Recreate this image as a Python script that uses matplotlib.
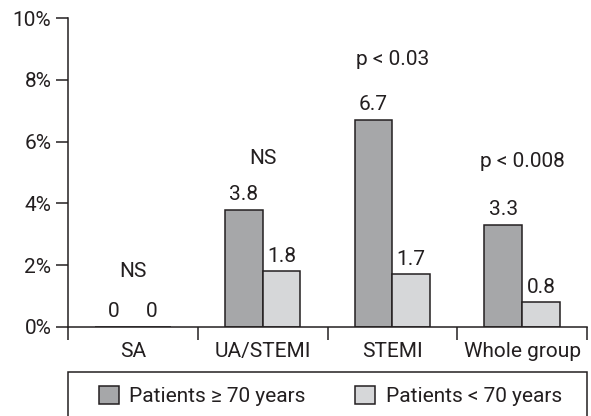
import matplotlib
matplotlib.use("Agg")
import matplotlib.pyplot as plt
from matplotlib.patches import Rectangle
import numpy as np

plt.rcParams['font.family'] = ['Liberation Sans Narrow', 'Roboto', 'DejaVu Sans']

categories = ["SA", "UA/STEMI", "STEMI", "Whole group"]
older = [0, 3.8, 6.7, 3.3]
younger = [0, 1.8, 1.7, 0.8]
p_labels = ["NS", "NS", "p < 0.03", "p < 0.008"]
p_label_y = [1.8, 5.45, 8.65, 5.35]
series_names = ["Patients \u2265 70 years", "Patients < 70 years"]
yticks = [0, 2, 4, 6, 8, 10]
ytick_labels = ["0%", "2%", "4%", "6%", "8%", "10%"]

dark = "#a6a7a9"
light = "#d6d7d9"
edge = "#231f20"
tc = "#231f20"

fig = plt.figure(figsize=(5.91, 4.16), dpi=100)
ax = fig.add_axes([68/591, 1-327/416, (587-68)/591, (327-18)/416])

x = np.arange(len(categories))
w = 0.29
b1 = ax.bar(x - w/2, older, w, color=dark, edgecolor=edge, linewidth=1.1, label=series_names[0])
b2 = ax.bar(x + w/2, younger, w, color=light, edgecolor=edge, linewidth=1.1, label=series_names[1])

fs = 15
for bars, vals in ((b1, older), (b2, younger)):
    for r, v in zip(bars, vals):
        ax.annotate(f"{v:g}", (r.get_x() + r.get_width()/2, v), xytext=(0, 4),
                    textcoords="offset points", ha="center", va="bottom", fontsize=fs, color=tc)

for xi, t, yy in zip(x, p_labels, p_label_y):
    ax.text(xi, yy, t, ha="center", va="center", fontsize=fs, color=tc)

ax.set_xlim(-0.5, len(categories) - 0.5)
ax.set_ylim(0, 10)
ax.set_yticks(yticks)
ax.set_yticklabels(ytick_labels, fontsize=fs, color=tc)
ax.tick_params(axis="y", direction="out", length=9, width=1.1, color=edge, pad=3)

ax.set_xticks(np.arange(len(categories) + 1) - 0.5)
ax.set_xticklabels([])
ax.tick_params(axis="x", direction="out", length=9, width=1.1, color=edge)
ax.set_xticks(x, minor=True)
ax.set_xticklabels(categories, minor=True, fontsize=fs, color=tc)
ax.tick_params(axis="x", which="minor", length=0, pad=11)

for s in ("top", "right"):
    ax.spines[s].set_visible(False)
for s in ("left", "bottom"):
    ax.spines[s].set_linewidth(1.1)
    ax.spines[s].set_color(edge)

# legend box
fig.patches.append(Rectangle((68/591, -0.05), (587-68)/591, 0.05 + 1 - 372/416,
                             transform=fig.transFigure, fill=False, edgecolor=edge,
                             linewidth=1.1, clip_on=False))
fig.legend(handles=[b1, b2], labels=series_names, loc="center left",
           bbox_to_anchor=(80/591, 1 - 396/416), ncol=2, frameon=False,
           fontsize=fs, handlelength=0.95, handleheight=0.95, columnspacing=2.4,
           handletextpad=0.5, labelcolor=tc)

fig.savefig("out.png", dpi=100)
